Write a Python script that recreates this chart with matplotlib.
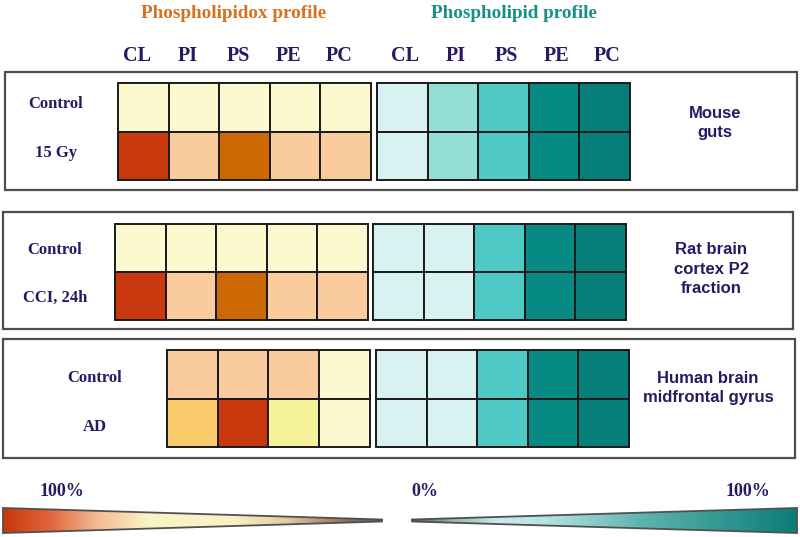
import numpy as np
import matplotlib.pyplot as plt
from matplotlib.patches import Rectangle, Polygon
from matplotlib.colors import LinearSegmentedColormap

# lipid classes
lipids = ['CL', 'PI', 'PS', 'PE', 'PC']

# colour levels, index into the palettes below
ox_palette = ['#FBF9CD', '#F6F29B', '#FACC9D', '#FACB6B', '#CD6905', '#CA380E']
pl_palette = ['#D8F2F1', '#93DFD6', '#4FC9C5', '#088A84', '#067F7B']

# oxidized phospholipid levels (rows: control, treated); nan = not measured
ox_mouse = [[0, 0, 0, 0, 0], [5, 2, 4, 2, 2]]
ox_rat = [[0, 0, 0, 0, 0], [5, 2, 4, 2, 2]]
ox_human = [[np.nan, 2, 2, 2, 0], [np.nan, 3, 5, 1, 0]]

# phospholipid levels
pl_mouse = [[0, 1, 2, 3, 4], [0, 1, 2, 3, 4]]
pl_rat = [[0, 0, 2, 3, 4], [0, 0, 2, 3, 4]]
pl_human = [[0, 0, 2, 3, 4], [0, 0, 2, 3, 4]]

row_labels = [['Control', '15 Gy'], ['Control', 'CCI, 24h'], ['Control', 'AD']]
tissues = ['Mouse\nguts', 'Rat brain\ncortex P2\nfraction', 'Human brain\nmidfrontal gyrus']

navy = '#2A1863'
serif = 'Liberation Serif'
sans = 'Liberation Sans'

fig = plt.figure(figsize=(8, 5.37), dpi=100)
ax = fig.add_axes([0, 0, 1, 1])
ax.set_xlim(0, 800)
ax.set_ylim(537, 0)
ax.axis('off')


def draw_grid(levels, palette, x0, y0, cw, ch):
    for r, row in enumerate(levels):
        for c, v in enumerate(row):
            if np.isnan(v):
                continue
            ax.add_patch(Rectangle((x0 + c * cw, y0 + r * ch), cw, ch,
                                   facecolor=palette[int(v)], edgecolor='#1a1a1a', lw=1.4))


# panel layout: box (x, y, w, h), grid origins, row top/height, label and tissue text spots
panels = [
    dict(box=(5, 72, 792, 118), lx=118, rx=377, top=83, ch=48.5, labx=56, laby=0.44, tx=715, ty=123),
    dict(box=(3, 212, 790, 117), lx=115, rx=373, top=224, ch=48, labx=55, laby=0.54, tx=711, ty=269),
    dict(box=(3, 339, 792, 119), lx=116.5, rx=376, top=350, ch=48.5, labx=95, laby=0.58, tx=708, ty=388),
]
ox_data = [ox_mouse, ox_rat, ox_human]
pl_data = [pl_mouse, pl_rat, pl_human]

for i, p in enumerate(panels):
    bx, by, bw, bh = p['box']
    ax.add_patch(Rectangle((bx, by), bw, bh, facecolor='white', edgecolor='#4d4d4d', lw=1.6))
    draw_grid(ox_data[i], ox_palette, p['lx'], p['top'], 50.6, p['ch'])
    draw_grid(pl_data[i], pl_palette, p['rx'], p['top'], 50.6, p['ch'])
    for r, lab in enumerate(row_labels[i]):
        ax.text(p['labx'], p['top'] + p['ch'] * (r + p['laby']), lab, ha='center', va='center',
                fontsize=12, fontweight='bold', family=serif, color=navy)
    ax.text(p['tx'], p['ty'], tissues[i], ha='center', va='center',
            fontsize=12, fontweight='bold', family=sans, color=navy, linespacing=1.4)

# titles and column headers
ax.text(234, 13, 'Phospholipidox profile', ha='center', va='center', fontsize=13.8,
        fontweight='bold', family=serif, color='#D5721D')
ax.text(514, 13, 'Phospholipid profile', ha='center', va='center', fontsize=13.8,
        fontweight='bold', family=serif, color='#178F89')
for j, name in enumerate(lipids):
    ax.text(137 + j * 50.5, 56, name, ha='center', va='center', fontsize=14.5,
            fontweight='bold', family=serif, color=navy)
    ax.text(405 + j * 50.5, 56, name, ha='center', va='center', fontsize=14.5,
            fontweight='bold', family=serif, color=navy)

# scale wedges
left_cmap = LinearSegmentedColormap.from_list(
    'ox', [(0, '#C8360C'), (0.12, '#E0643A'), (0.25, '#F3BC96'), (0.38, '#FAF2C4'),
           (0.6, '#F9F3C6'), (0.75, '#E6C9A4'), (0.88, '#A8785E'), (1, '#555555')])
right_cmap = LinearSegmentedColormap.from_list(
    'pl', [(0, '#555555'), (0.1, '#8FB3B1'), (0.22, '#C9ECEA'), (0.35, '#B4E3E0'),
           (0.6, '#5DB3AE'), (1, '#0B7D78')])

grad = np.linspace(0, 1, 256).reshape(1, -1)
for cmap, pts in [(left_cmap, [(3, 508), (3, 533), (382, 521.5), (382, 519.5)]),
                  (right_cmap, [(412, 519.5), (412, 521.5), (797, 533), (797, 508)])]:
    xs = [q[0] for q in pts]
    im = ax.imshow(grad, cmap=cmap, aspect='auto', extent=(min(xs), max(xs), 533, 508), zorder=2)
    poly = Polygon(pts, closed=True, facecolor='none', edgecolor='#505050', lw=1.3, zorder=3)
    ax.add_patch(poly)
    im.set_clip_path(poly)

ax.text(62, 491, '100%', ha='center', va='center', fontsize=13, fontweight='bold',
        family=serif, color=navy)
ax.text(425, 491, '0%', ha='center', va='center', fontsize=13, fontweight='bold',
        family=serif, color=navy)
ax.text(748, 491, '100%', ha='center', va='center', fontsize=13, fontweight='bold',
        family=serif, color=navy)

plt.savefig('out.png', dpi=100)
